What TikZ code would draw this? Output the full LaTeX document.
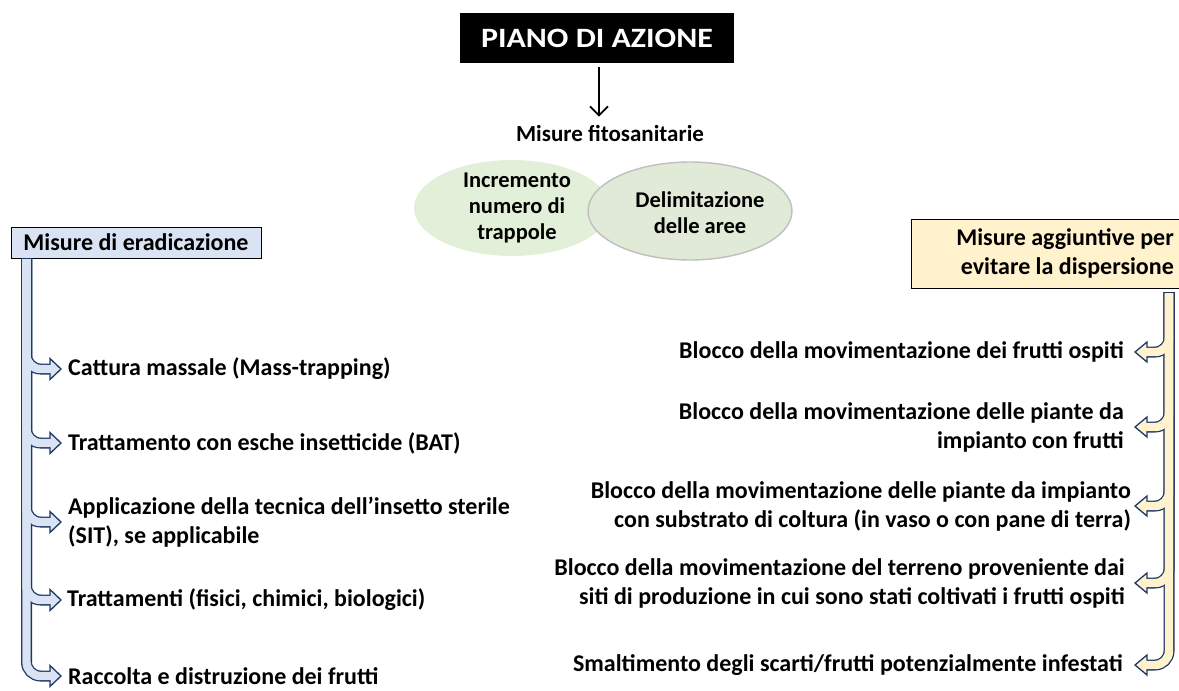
\documentclass[tikz,border=0pt]{standalone}
\usepackage{fontspec}
\setmainfont{Carlito}
\usetikzlibrary{positioning,shapes.geometric,arrows.meta}
\definecolor{bandblue}{HTML}{DAE3F3}
\definecolor{bandnavy}{HTML}{1F3864}
\definecolor{boxyellow}{HTML}{FFF2CC}
\definecolor{ellgreen}{HTML}{E2EFD9}
\definecolor{ellgreenb}{HTML}{E0EAD7}
\tikzset{
  item/.style={font=\fontsize{24}{29}\selectfont\bfseries, inner sep=0pt},
  elltext/.style={font=\fontsize{22.5}{26}\selectfont\bfseries, inner sep=0pt, align=center},
  bandout/.style={draw=bandnavy, line width=11pt, rounded corners=14pt},
  lbandin/.style={draw=bandblue, line width=8.4pt, rounded corners=14pt},
  rbandin/.style={draw=boxyellow, line width=8.4pt, rounded corners=14pt},
  lhead/.style={draw=bandnavy, fill=bandblue, line width=1.3pt},
  rhead/.style={draw=bandnavy, fill=boxyellow, line width=1.3pt},
}
\begin{document}
\begin{tikzpicture}[x=1pt,y=-1pt]
\useasboundingbox (0,0) rectangle (1179,691);
% top
\node[fill=black, text=white, minimum width=274pt, minimum height=50pt, font=\fontsize{28}{30}\selectfont\bfseries] (plan) at (597,38) {\scalebox{1.14}[1]{PIANO DI AZIONE}};
\node[item, font=\fontsize{23}{28}\selectfont\bfseries] (fito) at (610,133) {Misure fitosanitarie};
\draw[line width=1.8pt, -{Straight Barb[length=9pt,width=18pt]}, shorten >=8pt] ([xshift=2pt,yshift=-4pt]plan.south) -- ([xshift=2pt]plan.south |- fito.north);

\node[ellipse, fill=ellgreen, minimum width=196pt, minimum height=96pt] (trapell) at (512,208) {};
\node[ellipse, fill=ellgreenb, draw=gray!50, line width=1.4pt, minimum width=204pt, minimum height=98pt] (delell) at (690,211) {};
\node[elltext] (trap) at ([xshift=5pt]trapell.center) {Incremento\\numero di\\trappole};
\node[elltext] (delim) at ([xshift=10pt,yshift=-2pt]delell.center) {Delimitazione\\delle aree};

% boxes
\node[draw, fill=bandblue, line width=1pt, minimum width=250pt, minimum height=31pt, item] (erad) at (136,242.5) {Misure di eradicazione};
\draw[fill=boxyellow, line width=1pt] (911,219) rectangle (1190,288);
\node[item, anchor=east, align=right] (extra) at (1174,253.5) {Misure aggiuntive per\\evitare la dispersione};

% left branches
\coordinate (ltop) at (26.5,258);
\coordinate (l1) at (61,369);
\coordinate (l2) at (61,443);
\coordinate (l3) at (61,522);
\coordinate (l4) at (61,600);
\coordinate (l5) at (61,676);
\node[item, right=7pt of l1] (cattura) {Cattura massale (Mass-trapping)};
\node[item, right=7pt of l2] (esche) {Trattamento con esche insetticide (BAT)};
\node[item, right=7pt of l3, align=left] (sit) {Applicazione della tecnica dell’insetto sterile\\(SIT), se applicabile};
\node[item, right=6pt of l4] (tratt) {Trattamenti (fisici, chimici, biologici)};
\node[item, right=7pt of l5] (racc) {Raccolta e distruzione dei frutti};

% right branches
\coordinate (rtop) at (1169,292);
\coordinate (r1) at (1135,352);
\coordinate (r2) at (1135,427);
\coordinate (r3) at (1135,506);
\coordinate (r4) at (1135,583);
\coordinate (r5) at (1135,665);
\node[item, left=11pt of r1] (ospiti) {Blocco della movimentazione dei frutti ospiti};
\node[item, left=11pt of r2, align=right] (piante) {Blocco della movimentazione delle piante da\\impianto con frutti};
\node[item, left=4pt of r3, align=right] (substr) {Blocco della movimentazione delle piante da impianto\\con substrato di coltura (in vaso o con pane di terra)};
\node[item, left=10pt of r4, align=right] (terreno) {Blocco della movimentazione del terreno proveniente dai\\siti di produzione in cui sono stati coltivati i frutti ospiti};
\node[item, left=12pt of r5] (scarti) {Smaltimento degli scarti/frutti potenzialmente infestati};

% band outlines
\draw[bandout] (ltop) |- ([xshift=-11pt]l1);
\draw[bandout] (ltop) |- ([xshift=-11pt]l2);
\draw[bandout] (ltop) |- ([xshift=-11pt]l3);
\draw[bandout] (ltop) |- ([xshift=-11pt]l4);
\draw[bandout] (ltop) |- ([xshift=-11pt]l5);
\draw[bandout] (rtop) |- ([xshift=12pt]r1);
\draw[bandout] (rtop) |- ([xshift=12pt]r2);
\draw[bandout] (rtop) |- ([xshift=12pt]r3);
\draw[bandout] (rtop) |- ([xshift=12pt]r4);
\draw[bandout] (rtop) |- ([xshift=12pt]r5);

% heads
\draw[lhead] (l1) -- ++(-11,-10.5) -- ++(0,21) -- cycle;
\draw[lhead] (l2) -- ++(-11,-10.5) -- ++(0,21) -- cycle;
\draw[lhead] (l3) -- ++(-11,-10.5) -- ++(0,21) -- cycle;
\draw[lhead] (l4) -- ++(-11,-10.5) -- ++(0,21) -- cycle;
\draw[lhead] (l5) -- ++(-11,-10.5) -- ++(0,21) -- cycle;
\draw[rhead] (r1) -- ++(12,-10) -- ++(0,20) -- cycle;
\draw[rhead] (r2) -- ++(12,-10) -- ++(0,20) -- cycle;
\draw[rhead] (r3) -- ++(12,-10) -- ++(0,20) -- cycle;
\draw[rhead] (r4) -- ++(12,-10) -- ++(0,20) -- cycle;
\draw[rhead] (r5) -- ++(12,-10) -- ++(0,20) -- cycle;

% band fills
\draw[lbandin] ([yshift=-1pt]ltop) |- ([xshift=-10pt]l1);
\draw[lbandin] ([yshift=-1pt]ltop) |- ([xshift=-10pt]l2);
\draw[lbandin] ([yshift=-1pt]ltop) |- ([xshift=-10pt]l3);
\draw[lbandin] ([yshift=-1pt]ltop) |- ([xshift=-10pt]l4);
\draw[lbandin] ([yshift=-1pt]ltop) |- ([xshift=-10pt]l5);
\draw[rbandin] ([yshift=-1.3pt]rtop) |- ([xshift=11pt]r1);
\draw[rbandin] ([yshift=-1.3pt]rtop) |- ([xshift=11pt]r2);
\draw[rbandin] ([yshift=-1.3pt]rtop) |- ([xshift=11pt]r3);
\draw[rbandin] ([yshift=-1.3pt]rtop) |- ([xshift=11pt]r4);
\draw[rbandin] ([yshift=-1.3pt]rtop) |- ([xshift=11pt]r5);
\end{tikzpicture}
\end{document}
